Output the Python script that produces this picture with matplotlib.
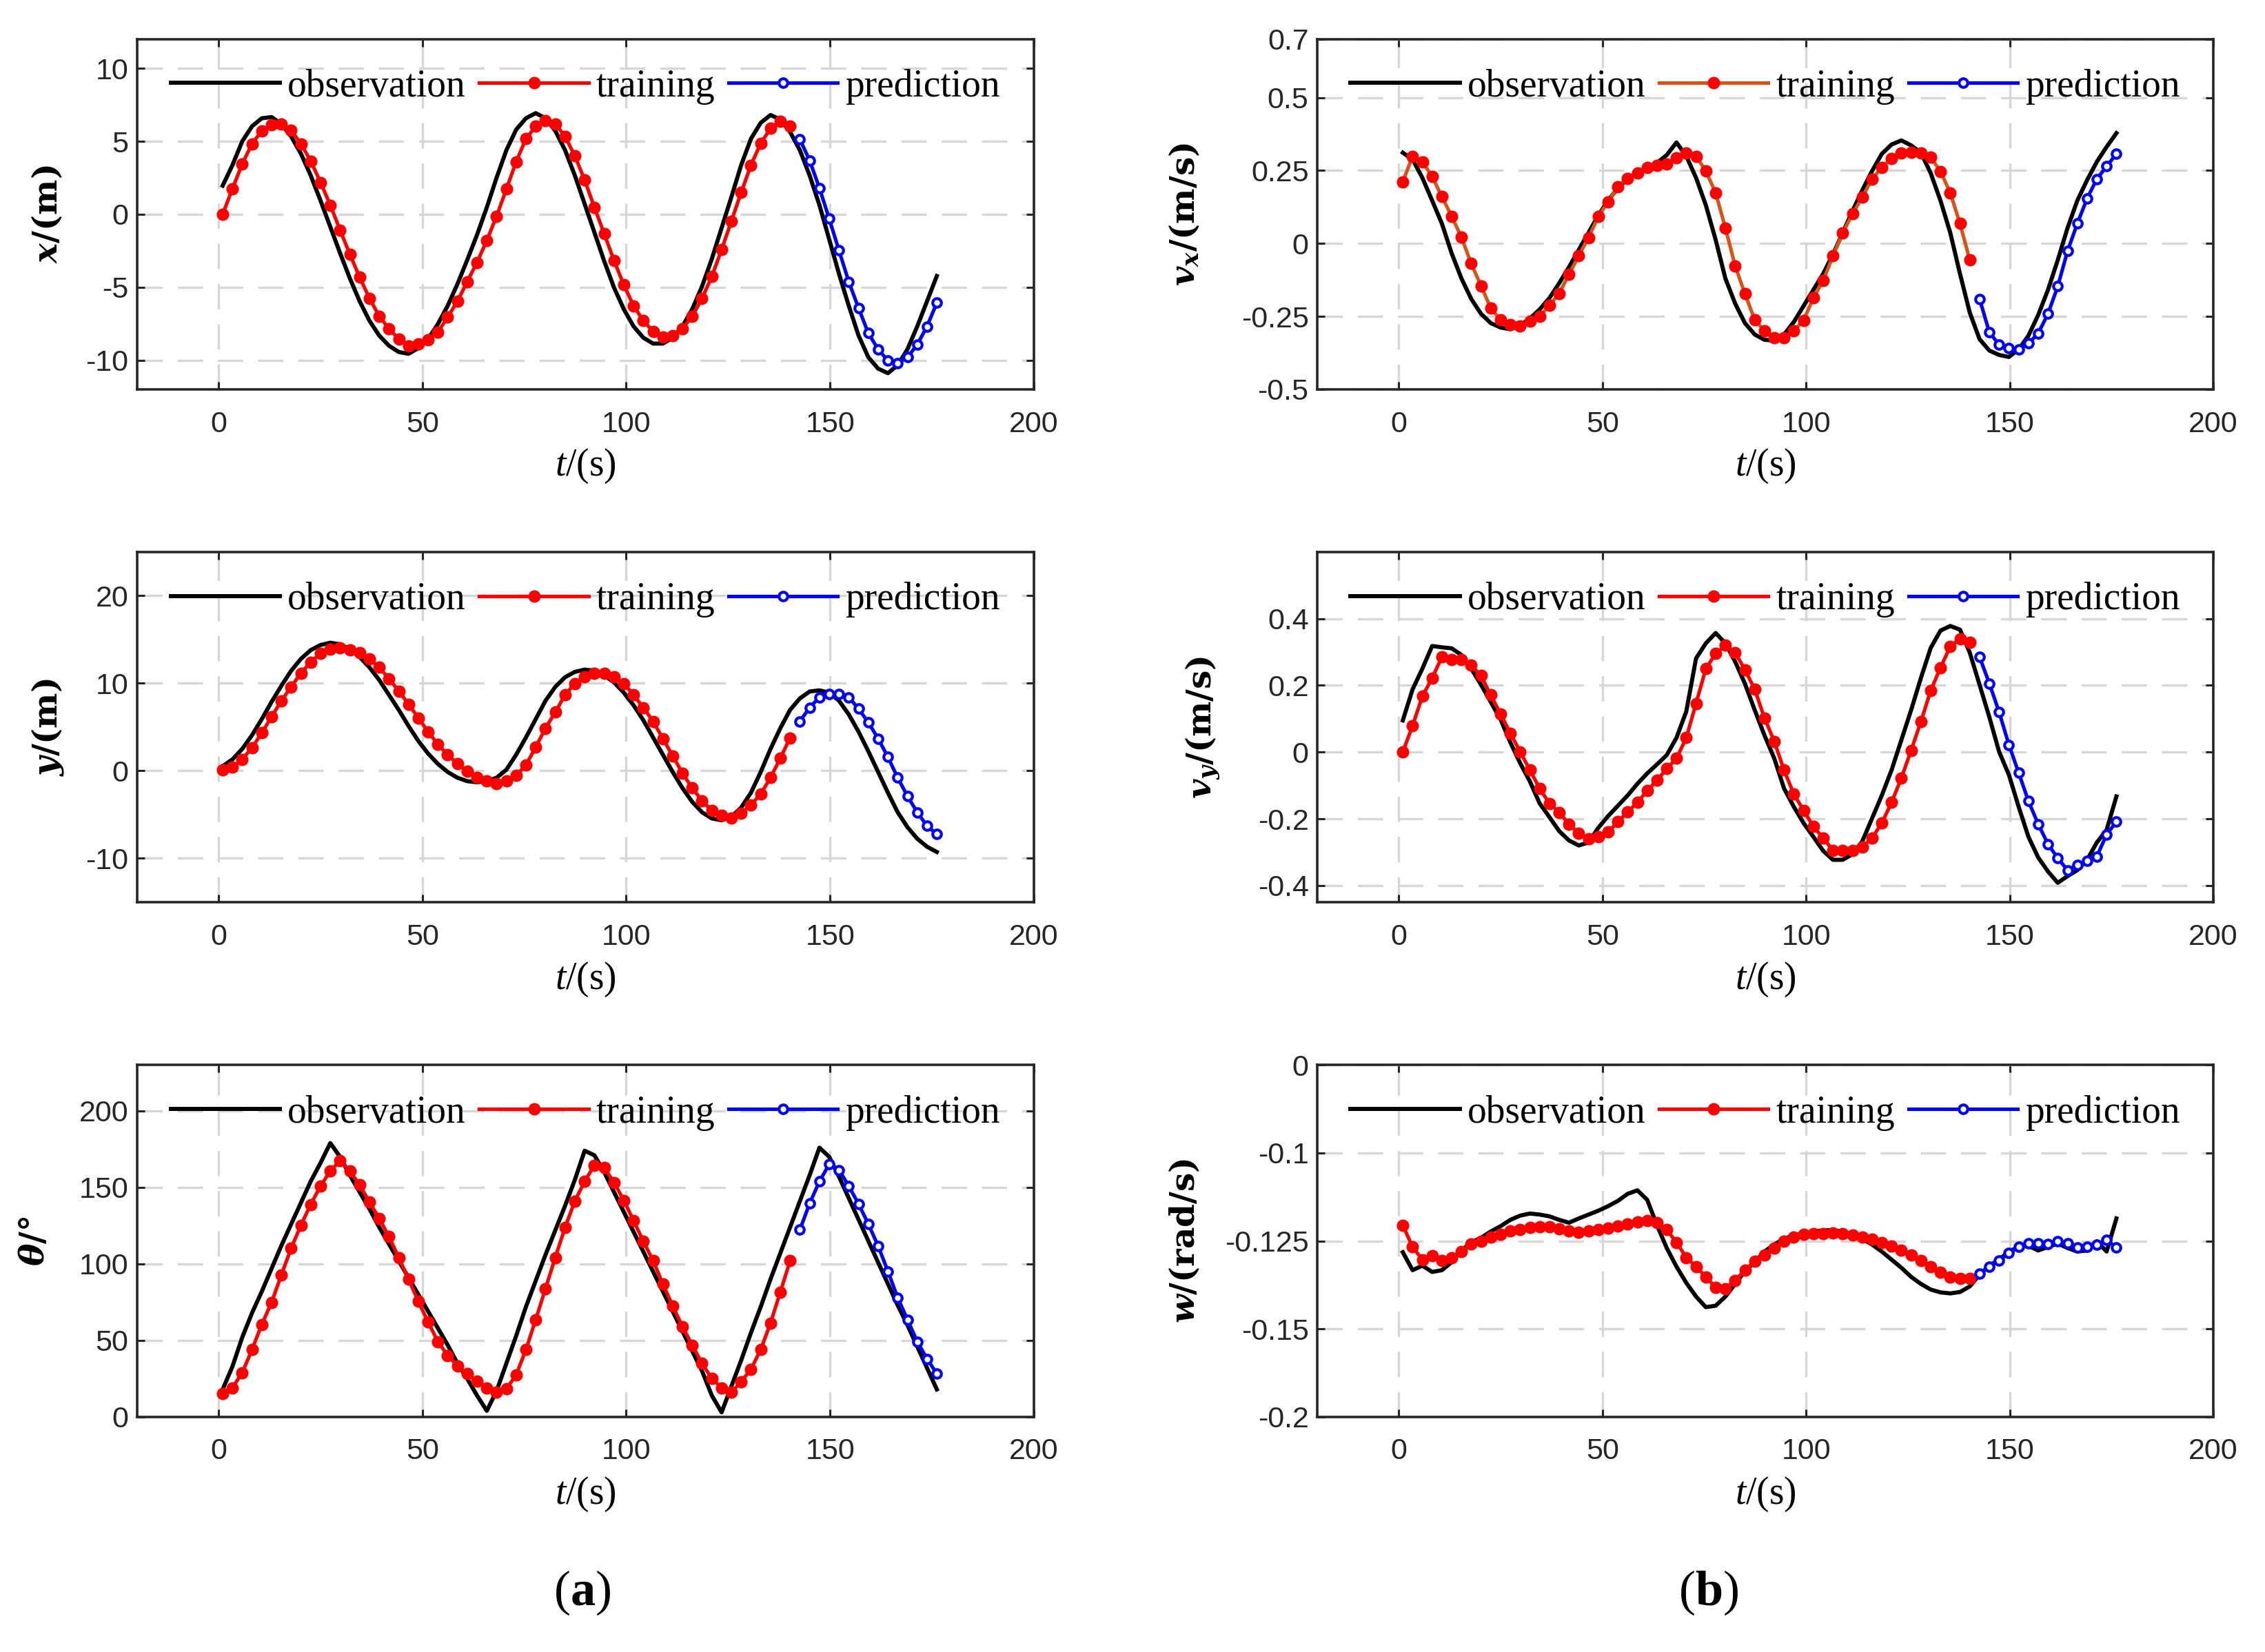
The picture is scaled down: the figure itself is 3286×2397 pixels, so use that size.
import numpy as np
import matplotlib
matplotlib.use('Agg')
import matplotlib.pyplot as plt
from matplotlib.ticker import FixedLocator, FixedFormatter

# ---------------- data ----------------
t_train = [1.0, 3.4, 5.8, 8.2, 10.6, 13.0, 15.4, 17.8, 20.2, 22.6,
           25.0, 27.4, 29.8, 32.2, 34.6, 37.0, 39.4, 41.8, 44.2, 46.6,
           49.0, 51.4, 53.8, 56.2, 58.6, 61.0, 63.4, 65.8, 68.2, 70.6,
           73.0, 75.4, 77.8, 80.2, 82.6, 85.0, 87.4, 89.8, 92.2, 94.6,
           97.0, 99.4, 101.8, 104.2, 106.6, 109.0, 111.4, 113.8, 116.2, 118.6,
           121.0, 123.4, 125.8, 128.2, 130.6, 133.0, 135.4, 137.8, 140.2]
t_pred = [142.6, 145.0, 147.4, 149.8, 152.2, 154.6, 157.0, 159.4, 161.8, 164.2,
          166.6, 169.0, 171.4, 173.8, 176.2]
t_obs = t_train + t_pred

x_obs = [1.96, 3.37, 5.0, 6.03, 6.58, 6.66, 6.19, 5.33, 4.15, 2.66,
         0.94, -0.86, -2.66, -4.39, -5.96, -7.29, -8.31, -9.01, -9.44, -9.56,
         -9.17, -8.54, -7.52, -6.27, -4.78, -3.13, -1.41, 0.47, 2.51, 4.39,
         5.8, 6.58, 6.93, 6.58, 5.72, 4.39, 2.66, 0.71, -1.25, -3.21,
         -5.02, -6.5, -7.68, -8.46, -8.86, -8.86, -8.46, -7.68, -6.5, -4.94,
         -3.06, -0.94, 1.18, 3.37, 5.17, 6.27, 6.8, 6.5, 5.64, 4.39,
         2.66, 0.63, -1.72, -4.08, -6.27, -8.31, -9.8, -10.58, -10.89, -10.34,
         -9.25, -7.68, -5.96, -4.23]
x_train = [0.0, 1.75, 3.45, 4.83, 5.72, 6.14, 6.18, 5.75, 4.83, 3.65,
           2.19, 0.63, -1.07, -2.74, -4.31, -5.75, -6.98, -7.84, -8.54, -9.01,
           -8.9, -8.62, -8.07, -7.05, -5.96, -4.62, -3.29, -1.8, -0.13, 1.72,
           3.6, 5.17, 6.03, 6.43, 6.19, 5.33, 4.0, 2.35, 0.47, -1.33,
           -3.17, -4.83, -6.27, -7.29, -8.03, -8.4, -8.31, -7.84, -6.98, -5.77,
           -4.26, -2.43, -0.47, 1.49, 3.37, 4.86, 5.88, 6.35, 6.03]
x_pred = [5.14, 3.68, 1.8, -0.31, -2.48, -4.62, -6.43, -8.15, -9.25, -10.03,
          -10.19, -9.8, -8.93, -7.68, -6.07]

vx_obs = [0.311, 0.288, 0.225, 0.147, 0.068, -0.034, -0.12, -0.19, -0.241, -0.273,
          -0.288, -0.294, -0.281, -0.257, -0.226, -0.187, -0.136, -0.081, -0.022, 0.037,
          0.096, 0.147, 0.19, 0.221, 0.245, 0.26, 0.276, 0.303, 0.346, 0.299,
          0.225, 0.131, 0.013, -0.12, -0.206, -0.273, -0.312, -0.33, -0.333, -0.312,
          -0.269, -0.214, -0.159, -0.104, -0.038, 0.037, 0.111, 0.182, 0.248, 0.307,
          0.339, 0.353, 0.336, 0.311, 0.241, 0.147, 0.037, -0.104, -0.237, -0.328,
          -0.367, -0.382, -0.389, -0.363, -0.316, -0.245, -0.159, -0.057, 0.053, 0.147,
          0.217, 0.28, 0.331, 0.378]
vx_train = [0.211, 0.299, 0.28, 0.23, 0.16, 0.093, 0.021, -0.069, -0.145, -0.222,
            -0.261, -0.278, -0.282, -0.266, -0.249, -0.212, -0.171, -0.106, -0.042, 0.02,
            0.092, 0.143, 0.194, 0.223, 0.242, 0.26, 0.268, 0.272, 0.294, 0.311,
            0.299, 0.248, 0.174, 0.053, -0.077, -0.173, -0.261, -0.3, -0.324, -0.322,
            -0.3, -0.263, -0.187, -0.128, -0.043, 0.037, 0.101, 0.158, 0.221, 0.26,
            0.292, 0.31, 0.313, 0.311, 0.295, 0.247, 0.174, 0.068, -0.057]
vx_pred = [-0.19, -0.304, -0.347, -0.359, -0.363, -0.343, -0.308, -0.241, -0.147, -0.026,
           0.068, 0.154, 0.221, 0.264, 0.307]

y_obs = [0.53, 1.31, 2.5, 4.07, 5.91, 7.88, 9.71, 11.43, 12.79, 13.79,
         14.37, 14.63, 14.45, 13.92, 13.0, 11.82, 10.38, 8.67, 6.96, 5.12,
         3.41, 1.97, 0.79, -0.13, -0.79, -1.18, -1.31, -1.18, -0.79, 0.13,
         1.84, 3.81, 5.91, 8.01, 9.59, 10.69, 11.3, 11.56, 11.43, 10.9,
         10.11, 8.93, 7.49, 5.78, 3.81, 1.84, -0.13, -1.97, -3.55, -4.73,
         -5.44, -5.65, -5.25, -4.2, -2.5, -0.13, 2.5, 4.86, 6.96, 8.27,
         9.06, 9.19, 8.93, 8.01, 6.44, 4.47, 2.23, -0.13, -2.5, -4.73,
         -6.44, -7.75, -8.67, -9.27]
y_train = [0.13, 0.39, 1.31, 2.63, 4.33, 6.17, 8.01, 9.58, 11.16, 12.42,
           13.4, 13.92, 14.05, 13.84, 13.53, 12.79, 11.82, 10.51, 9.11, 7.62,
           6.04, 4.47, 3.02, 1.84, 0.79, -0.08, -0.79, -1.18, -1.44, -1.18,
           -0.53, 0.66, 2.71, 4.86, 6.7, 8.67, 9.98, 10.77, 11.16, 11.16,
           10.77, 9.98, 8.67, 7.22, 5.65, 3.68, 1.71, -0.26, -1.97, -3.41,
           -4.54, -5.12, -5.38, -4.86, -3.94, -2.63, -0.79, 1.44, 3.76]
y_pred = [5.65, 7.22, 8.41, 8.8, 8.8, 8.41, 7.09, 5.52, 3.68, 1.58,
          -0.79, -2.89, -4.73, -6.3, -7.22]

vy_obs = [0.095, 0.188, 0.25, 0.318, 0.314, 0.311, 0.291, 0.25, 0.202, 0.15,
          0.098, 0.029, -0.033, -0.088, -0.154, -0.195, -0.237, -0.265, -0.28, -0.271,
          -0.227, -0.192, -0.161, -0.13, -0.095, -0.064, -0.037, -0.009, 0.043, 0.122,
          0.281, 0.326, 0.357, 0.326, 0.271, 0.205, 0.126, 0.05, -0.019, -0.109,
          -0.164, -0.213, -0.254, -0.296, -0.323, -0.323, -0.306, -0.268, -0.199, -0.13,
          -0.054, 0.036, 0.126, 0.222, 0.312, 0.364, 0.378, 0.367, 0.298, 0.202,
          0.105, 0.001, -0.068, -0.164, -0.254, -0.316, -0.358, -0.392, -0.372, -0.354,
          -0.323, -0.271, -0.233, -0.133]
vy_train = [0.0, 0.079, 0.167, 0.222, 0.285, 0.278, 0.278, 0.26, 0.229, 0.171,
            0.114, 0.057, 0.001, -0.054, -0.109, -0.154, -0.181, -0.216, -0.244, -0.26,
            -0.254, -0.24, -0.209, -0.18, -0.151, -0.116, -0.085, -0.05, -0.019, 0.043,
            0.146, 0.25, 0.295, 0.32, 0.298, 0.247, 0.188, 0.102, 0.032, -0.054,
            -0.126, -0.175, -0.223, -0.258, -0.294, -0.296, -0.296, -0.285, -0.258, -0.213,
            -0.151, -0.078, 0.005, 0.091, 0.184, 0.253, 0.316, 0.34, 0.329]
vy_pred = [0.285, 0.206, 0.12, 0.022, -0.062, -0.147, -0.216, -0.276, -0.318, -0.354,
           -0.338, -0.327, -0.313, -0.247, -0.209]

theta_obs = [18, 33, 52, 68, 82, 97, 112, 126, 140, 154,
             166, 179, 170, 158, 147, 136, 124, 113, 102, 91,
             80, 69, 58, 47, 35, 25, 14, 4, 17, 35,
             53, 72, 89, 106, 122, 138, 155, 174, 171, 160,
             147, 134, 121, 108, 95, 82, 69, 56, 43, 30,
             14, 3, 20, 37, 55, 72, 90, 107, 124, 141,
             158, 176, 170, 157, 143, 129, 115, 101, 87, 73,
             60, 46, 32, 18]
theta_train = [15.4, 19.1, 28.9, 44.0, 60.5, 74.8, 92.9, 110.2, 125.3, 138.9,
               150.9, 160.7, 167.5, 160.7, 151.7, 140.4, 129.8, 117.8, 104.2, 89.9,
               75.6, 62.0, 49.2, 40.2, 33.4, 28.2, 23.6, 19.1, 16.1, 18.4,
               27.4, 44.0, 63.6, 83.9, 104.2, 123.8, 141.1, 153.9, 164.5, 163.0,
               153.2, 141.6, 128.3, 114.8, 102.0, 86.9, 72.6, 59.0, 47.0, 34.9,
               25.2, 19.1, 16.1, 22.9, 31.2, 44.0, 61.3, 81.6, 102.0]
theta_pred = [122.3, 139.6, 153.9, 165.2, 161.4, 150.9, 139.2, 126.1, 111.7, 95.2,
              77.9, 63.6, 49.2, 38.0, 28.2]

w_obs = [-0.1282, -0.1333, -0.132, -0.1338, -0.1333, -0.131, -0.1277, -0.1254, -0.1241, -0.1223,
         -0.1208, -0.119, -0.1178, -0.1172, -0.1175, -0.118, -0.119, -0.1198, -0.1186, -0.1175,
         -0.1164, -0.1151, -0.1136, -0.1116, -0.1106, -0.1133, -0.1205, -0.127, -0.1323, -0.1369,
         -0.1408, -0.1438, -0.1434, -0.1408, -0.1372, -0.1336, -0.131, -0.128, -0.126, -0.1244,
         -0.1234, -0.1228, -0.1223, -0.122, -0.1219, -0.1224, -0.1231, -0.1244, -0.126, -0.128,
         -0.1303, -0.1326, -0.1352, -0.1372, -0.1388, -0.1396, -0.1399, -0.1395, -0.1379, -0.1346,
         -0.132, -0.1303, -0.128, -0.1267, -0.1264, -0.1277, -0.1267, -0.1257, -0.127, -0.128,
         -0.1277, -0.1251, -0.128, -0.1186]
w_train = [-0.1205, -0.1267, -0.1303, -0.1291, -0.1306, -0.1297, -0.128, -0.1259, -0.125, -0.1239,
           -0.1231, -0.1221, -0.1217, -0.1211, -0.1209, -0.121, -0.1215, -0.1221, -0.1226, -0.1221,
           -0.1218, -0.1213, -0.1208, -0.1201, -0.1195, -0.1192, -0.1197, -0.1218, -0.1254, -0.1297,
           -0.1323, -0.1352, -0.1382, -0.1385, -0.1362, -0.1333, -0.1308, -0.129, -0.127, -0.1251,
           -0.1239, -0.1232, -0.123, -0.123, -0.1228, -0.123, -0.1234, -0.1239, -0.1244, -0.1254,
           -0.1264, -0.1276, -0.129, -0.1306, -0.1323, -0.1339, -0.1352, -0.1356, -0.1357]
w_pred = [-0.1343, -0.1323, -0.1306, -0.1285, -0.1267, -0.1256, -0.1257, -0.1259, -0.1251, -0.1256,
          -0.1269, -0.1267, -0.126, -0.1247, -0.1269]

x_ticks = [0, 50, 100, 150, 200]
legend_labels = ['observation', 'training', 'prediction']

# ---------------- style ----------------
plt.rcParams.update({
    'font.family': ['Liberation Sans', 'DejaVu Sans'],
    'axes.unicode_minus': False,
    'mathtext.fontset': 'custom',
    'mathtext.it': 'Liberation Serif:italic',
    'mathtext.rm': 'Liberation Serif',
    'mathtext.bf': 'Liberation Serif:bold',
    'mathtext.bfit': 'DejaVu Serif:italic:bold',
})
DARK = '#262626'

fig = plt.figure(figsize=(32.87, 23.97), dpi=100)

col_l = (0.0605, 0.3958)
col_r = (0.5814, 0.3955)
rows = [0.7643, 0.4539, 0.1423]
H = 0.212


def make_panel(pos, obs, tr, pr, ylim, yticks, yticklabels, ylabel, ylab_x,
               tr_line='red', wscale=False):
    ax = fig.add_axes(pos)
    if wscale:
        lab = np.array([-0.2, -0.15, -0.125, -0.1, 0.0])
        loc = np.array([-0.2, -0.15, -0.1, -0.05, 0.0])
        ax.set_yscale('function', functions=(lambda v: np.interp(v, lab, loc),
                                             lambda p: np.interp(p, loc, lab)))
    ax.plot(t_obs, obs, color='black', lw=4.3, zorder=3, label=legend_labels[0])
    ax.plot(t_train, tr, color=tr_line, lw=3.7, marker='o', ms=12,
            mfc='red', mec='red', zorder=4, label=legend_labels[1])
    ax.plot(t_pred, pr, color='blue', lw=3.7, marker='o', ms=9,
            mfc='white', mec='blue', mew=3.0, zorder=5, label=legend_labels[2])
    ax.set_xlim(-20, 200)
    ax.set_ylim(*ylim)
    ax.xaxis.set_major_locator(FixedLocator(x_ticks))
    ax.yaxis.set_major_locator(FixedLocator(yticks))
    ax.yaxis.set_major_formatter(FixedFormatter(yticklabels))
    ax.yaxis.set_minor_locator(FixedLocator([]))
    ax.set_axisbelow(True)
    ax.grid(True, ls=(0, (11, 6.5)), color='#d6d6d6', lw=2.4)
    for s in ax.spines.values():
        s.set_color(DARK)
        s.set_linewidth(2.6)
    ax.tick_params(direction='in', length=8, width=2.2, top=True, right=True,
                   colors=DARK, labelsize=31)
    ax.tick_params(axis='x', pad=22)
    ax.tick_params(axis='y', pad=9)
    for lbl in ax.get_xticklabels() + ax.get_yticklabels():
        lbl.set_fontfamily(['Liberation Sans', 'DejaVu Sans'])
    ax.set_xlabel(r'$t$/(s)', fontsize=40, family='Liberation Serif', va='center')
    ax.xaxis.set_label_coords(0.5, -0.22)
    ax.set_ylabel(ylabel, fontsize=35, family='DejaVu Serif', fontweight='bold', va='center')
    ax.yaxis.set_label_coords(ylab_x, 0.5)
    ax.legend(loc='center', bbox_to_anchor=(0.5, 0.864), ncol=3, frameon=False,
              prop={'family': 'Liberation Serif', 'size': 40},
              handlelength=2.85, handletextpad=0.2, columnspacing=0.35,
              borderpad=0, borderaxespad=0)
    return ax


make_panel([col_l[0], rows[0], col_l[1], H], x_obs, x_train, x_pred, (-12, 12),
           [-10, -5, 0, 5, 10], ['-10', '-5', '0', '5', '10'],
           r'$\mathbfit{x}$/(m)', -0.100)
make_panel([col_l[0], rows[1], col_l[1], H], y_obs, y_train, y_pred, (-15, 25),
           [-10, 0, 10, 20], ['-10', '0', '10', '20'],
           r'$\mathbfit{y}$/(m)', -0.100)
make_panel([col_l[0], rows[2], col_l[1], H + 0.001], theta_obs, theta_train, theta_pred, (0, 230),
           [0, 50, 100, 150, 200], ['0', '50', '100', '150', '200'],
           r'$\mathbfit{\theta}$/°', -0.114)
make_panel([col_r[0], rows[0], col_r[1], H], vx_obs, vx_train, vx_pred, (-0.5, 0.7),
           [-0.5, -0.25, 0, 0.25, 0.5, 0.7], ['-0.5', '-0.25', '0', '0.25', '0.5', '0.7'],
           r'$\mathbfit{v}_{\mathbfit{x}}$/(m/s)', -0.148, tr_line='#D95319')
make_panel([col_r[0], rows[1], col_r[1], H], vy_obs, vy_train, vy_pred, (-0.45, 0.6),
           [-0.4, -0.2, 0, 0.2, 0.4], ['-0.4', '-0.2', '0', '0.2', '0.4'],
           r'$\mathbfit{v}_{\mathbfit{y}}$/(m/s)', -0.128)
make_panel([col_r[0], rows[2], col_r[1], H + 0.001], w_obs, w_train, w_pred, (-0.2, 0.0),
           [-0.2, -0.15, -0.125, -0.1, 0.0], ['-0.2', '-0.15', '-0.125', '-0.1', '0'],
           r'$\mathbfit{w}$/(rad/s)', -0.148, wscale=True)

fig.text(0.257, 0.036, r'($\mathbf{a}$)', fontsize=52, family='Liberation Serif',
         ha='center', va='center')
fig.text(0.754, 0.036, r'($\mathbf{b}$)', fontsize=52, family='Liberation Serif',
         ha='center', va='center')

fig.savefig('out.png', dpi=100)
